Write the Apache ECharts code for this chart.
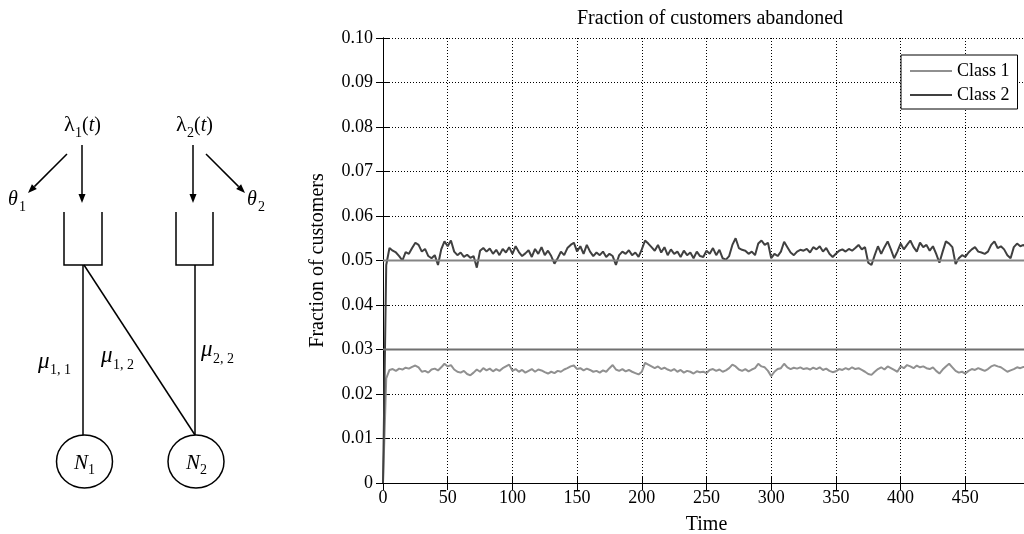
<!DOCTYPE html>
<html>
<head>
<meta charset="utf-8">
<title>Fraction of customers abandoned</title>
<script src="https://cdn.jsdelivr.net/npm/echarts@6/dist/echarts.min.js"></script>
<style>
  html, body { margin: 0; padding: 0; background: #fff; }
  #main { width: 1024px; height: 534px; }
</style>
</head>
<body>
<div id="main"></div>
<script>
// sampled every timeStep time units, starting at t = 0
var timeStep = 2.5;

var class1 = [
  0, 0.0235, 0.0254, 0.0256, 0.0252, 0.0257, 0.0255, 0.0259, 0.0257, 0.0261,
  0.0264, 0.0260, 0.0250, 0.0252, 0.0248, 0.0255, 0.0257, 0.0253, 0.0260, 0.0268,
  0.0262, 0.0265, 0.0255, 0.0250, 0.0248, 0.0252, 0.0245, 0.0242, 0.0248, 0.0255,
  0.0250, 0.0258, 0.0253, 0.0257, 0.0251, 0.0256, 0.0252, 0.0258, 0.0262, 0.0266,
  0.0252, 0.0256, 0.0250, 0.0254, 0.0248, 0.0252, 0.0256, 0.0250, 0.0255, 0.0253,
  0.0249, 0.0246, 0.0250, 0.0247, 0.0252, 0.0250, 0.0255, 0.0258, 0.0262, 0.0264,
  0.0256, 0.0258, 0.0253, 0.0257, 0.0254, 0.0250, 0.0252, 0.0248, 0.0253, 0.0250,
  0.0258, 0.0265, 0.0255, 0.0252, 0.0256, 0.0251, 0.0254, 0.0250, 0.0247, 0.0244,
  0.0250, 0.0270, 0.0266, 0.0262, 0.0258, 0.0262, 0.0256, 0.0259, 0.0255, 0.0252,
  0.0256, 0.0250, 0.0254, 0.0248, 0.0252, 0.0250, 0.0246, 0.0251, 0.0249, 0.0250,
  0.0247, 0.0254, 0.0256, 0.0252, 0.0255, 0.0250, 0.0253, 0.0258, 0.0266, 0.0262,
  0.0255, 0.0252, 0.0256, 0.0251, 0.0255, 0.0258, 0.0268, 0.0262, 0.0260, 0.0252,
  0.0240, 0.0250, 0.0256, 0.0258, 0.0268, 0.0260, 0.0256, 0.0259, 0.0257, 0.0260,
  0.0256, 0.0258, 0.0255, 0.0259, 0.0256, 0.0260, 0.0254, 0.0257, 0.0252, 0.0249,
  0.0251, 0.0256, 0.0254, 0.0258, 0.0255, 0.0260, 0.0256, 0.0258, 0.0254, 0.0250,
  0.0245, 0.0243, 0.0250, 0.0256, 0.0260, 0.0255, 0.0262, 0.0258, 0.0254, 0.0250,
  0.0262, 0.0258, 0.0265, 0.0262, 0.0258, 0.0264, 0.0260, 0.0262, 0.0258, 0.0256,
  0.0260, 0.0252, 0.0246, 0.0255, 0.0262, 0.0268, 0.0260, 0.0252, 0.0248, 0.0250,
  0.0246, 0.0252, 0.0256, 0.0254, 0.0258, 0.0255, 0.0252, 0.0256, 0.0262, 0.0265,
  0.0262, 0.0260, 0.0255, 0.0250, 0.0253, 0.0256, 0.0260, 0.0258, 0.0261, 0.0259,
  0.0262
];

var class2 = [
  0, 0.0490, 0.0528, 0.0522, 0.0518, 0.0510, 0.0500, 0.0519, 0.0515, 0.0528,
  0.0540, 0.0535, 0.0520, 0.0526, 0.0510, 0.0505, 0.0512, 0.0490, 0.0525, 0.0543,
  0.0532, 0.0545, 0.0520, 0.0512, 0.0518, 0.0508, 0.0513, 0.0506, 0.0510, 0.0484,
  0.0522, 0.0528, 0.0520, 0.0527, 0.0515, 0.0524, 0.0512, 0.0526, 0.0518, 0.0530,
  0.0515, 0.0532, 0.0519, 0.0510, 0.0516, 0.0523, 0.0508, 0.0526, 0.0515, 0.0530,
  0.0512, 0.0522, 0.0510, 0.0493, 0.0505, 0.0520, 0.0512, 0.0528, 0.0535, 0.0540,
  0.0520, 0.0532, 0.0515, 0.0535, 0.0520, 0.0510, 0.0518, 0.0512, 0.0520, 0.0508,
  0.0515, 0.0510, 0.0490, 0.0512, 0.0520, 0.0515, 0.0523, 0.0512, 0.0518, 0.0508,
  0.0525, 0.0545, 0.0538, 0.0530, 0.0522, 0.0535, 0.0518, 0.0530, 0.0512, 0.0525,
  0.0515, 0.0520, 0.0508, 0.0522, 0.0512, 0.0518, 0.0505, 0.0520, 0.0510, 0.0508,
  0.0522, 0.0515, 0.0528, 0.0512, 0.0524, 0.0505, 0.0502, 0.0510, 0.0535, 0.0550,
  0.0528, 0.0524, 0.0522, 0.0515, 0.0520, 0.0512, 0.0538, 0.0545, 0.0535, 0.0540,
  0.0505, 0.0515, 0.0510, 0.0520, 0.0542, 0.0530, 0.0518, 0.0512, 0.0520, 0.0524,
  0.0522, 0.0526, 0.0518, 0.0530, 0.0525, 0.0532, 0.0520, 0.0528, 0.0515, 0.0508,
  0.0515, 0.0522, 0.0525, 0.0520, 0.0526, 0.0522, 0.0528, 0.0535, 0.0525, 0.0530,
  0.0495, 0.0490, 0.0512, 0.0532, 0.0515, 0.0530, 0.0543, 0.0525, 0.0505, 0.0520,
  0.0538, 0.0525, 0.0535, 0.0545, 0.0530, 0.0520, 0.0540, 0.0530, 0.0535, 0.0522,
  0.0532, 0.0515, 0.0495, 0.0520, 0.0543, 0.0538, 0.0530, 0.0492, 0.0505, 0.0512,
  0.0508, 0.0518, 0.0525, 0.0530, 0.0520, 0.0518, 0.0515, 0.0520, 0.0535, 0.0543,
  0.0528, 0.0532, 0.0525, 0.0512, 0.0505, 0.0530, 0.0538, 0.0532, 0.0535, 0.0528,
  0.0530
];

// horizontal reference levels drawn across the whole run
var targetLevels = [0.05, 0.03];
var timeRange = [0, 500];

var serif = '"Liberation Serif", "DejaVu Serif", serif';
var ink = '#000';

function pairs(values) {
  return values.map(function (v, i) { return [i * timeStep, v]; });
}

// ---- queue diagram on the left ----
function seg(x1, y1, x2, y2) {
  return { type: 'line', shape: { x1: x1, y1: y1, x2: x2, y2: y2 },
           style: { stroke: ink, lineWidth: 1.5 } };
}
function arrow(x1, y1, x2, y2) {
  var a = Math.atan2(y2 - y1, x2 - x1), L = 9, W = 3.5;
  var bx = x2 - L * Math.cos(a), by = y2 - L * Math.sin(a);
  return [
    seg(x1, y1, bx, by),
    { type: 'polygon',
      shape: { points: [[x2, y2],
                        [bx + W * Math.sin(a), by - W * Math.cos(a)],
                        [bx - W * Math.sin(a), by + W * Math.cos(a)]] },
      style: { fill: ink } }
  ];
}
function txt(x, base, s, size, italic) {
  return { type: 'text', x: x, y: base - 0.34 * size,
           style: { text: s, fontSize: size, fontFamily: serif,
                    fontStyle: italic ? 'italic' : 'normal',
                    fill: ink, align: 'left', verticalAlign: 'middle' } };
}
function queue(xl, xr) {
  return { type: 'polyline',
           shape: { points: [[xl, 212], [xl, 265], [xr, 265], [xr, 212]] },
           style: { stroke: ink, fill: null, lineWidth: 1.5 } };
}
function node(cx) {
  return { type: 'ellipse', shape: { cx: cx, cy: 461.5, rx: 28, ry: 26.5 },
           style: { stroke: ink, fill: '#fff', lineWidth: 1.5 } };
}
function paren(x, base) {
  return { type: 'text', x: x, y: base - 0.34 * 20,
           style: { text: '{n|(}{i|t}{n|)}', fill: ink, align: 'left', verticalAlign: 'middle',
                    rich: { n: { fontSize: 20, fontFamily: serif },
                            i: { fontSize: 20, fontFamily: serif, fontStyle: 'italic' } } } };
}

var diagram = [].concat(
  arrow(82, 145, 82, 203),
  arrow(193, 145, 193, 203),
  arrow(67, 154, 28, 193),
  arrow(206, 154, 245, 193),
  [
    queue(64, 102), queue(176, 213),
    seg(83, 265, 83, 435), seg(84, 265, 195, 435), seg(195, 265, 195, 435),
    node(84.5), node(196),
    txt(64, 133, 'λ', 22, false), txt(75, 138, '1', 14, false), paren(82, 133),
    txt(176, 133, 'λ', 22, false), txt(187, 138, '2', 14, false), paren(194, 133),
    txt(8, 207, 'θ', 20, true), txt(19, 212, '1', 14, false),
    txt(247, 207, 'θ', 20, true), txt(258, 212, '2', 14, false),
    txt(74, 471, 'N', 21, true), txt(88, 475, '1', 14, false),
    txt(186, 471, 'N', 21, true), txt(200, 475, '2', 14, false),
    txt(38, 370, 'μ', 23, true), txt(50, 375, '1, 1', 14, false),
    txt(101, 364, 'μ', 23, true), txt(113, 370, '1, 2', 14, false),
    txt(201, 358, 'μ', 23, true), txt(213, 364, '2, 2', 14, false)
  ]
);

// ---- chart ----
var chart = echarts.init(document.getElementById('main'));

var tickStyle = { show: true, inside: true, length: 7, lineStyle: { color: ink, width: 1 } };

var option = {
  backgroundColor: '#fff',
  animation: false,
  title: {
    text: 'Fraction of customers abandoned',
    left: 705, top: 4, textAlign: 'center',
    textStyle: { color: ink, fontSize: 20, fontWeight: 'normal', fontFamily: serif }
  },
  legend: {
    data: ['Class 1', 'Class 2'],
    orient: 'vertical',
    left: 901, top: 55,
    icon: 'rect',
    itemWidth: 42, itemHeight: 2, itemGap: 6,
    padding: [7, 8, 5, 9],
    borderColor: ink, borderWidth: 1, borderRadius: 0,
    backgroundColor: '#fff',
    textStyle: { color: ink, fontSize: 18, fontFamily: serif }
  },
  grid: { left: 383, right: -6, top: 38, bottom: 51, outerBoundsMode: 'none', containLabel: false },
  xAxis: [
    {
      type: 'value', min: timeRange[0], max: timeRange[1], interval: 50,
      name: 'Time', nameLocation: 'middle', nameGap: 32,
      nameTextStyle: { color: ink, fontSize: 20, fontFamily: serif },
      axisLine: { show: true, lineStyle: { color: ink, width: 1 } },
      axisTick: tickStyle,
      axisLabel: { color: ink, fontSize: 18, fontFamily: serif, margin: 6, showMaxLabel: false },
      splitLine: { show: true, lineStyle: { color: ink, type: [1, 2], width: 1 } }
    },
    {
      type: 'value', position: 'top', min: timeRange[0], max: timeRange[1], interval: 50,
      axisLine: { show: true, lineStyle: { color: ink, width: 1 } },
      axisTick: tickStyle,
      axisLabel: { show: false },
      splitLine: { show: false }
    }
  ],
  yAxis: [
    {
      type: 'value', min: 0, max: 0.1, interval: 0.01,
      name: 'Fraction of customers', nameLocation: 'middle', nameGap: 55,
      nameTextStyle: { color: ink, fontSize: 20, fontFamily: serif },
      axisLine: { show: true, lineStyle: { color: ink, width: 1 } },
      axisTick: tickStyle,
      axisLabel: {
        color: ink, fontSize: 18, fontFamily: serif, margin: 10,
        formatter: function (v) { return v === 0 ? '0' : v.toFixed(2); }
      },
      splitLine: { show: true, lineStyle: { color: ink, type: [1, 2], width: 1 } }
    },
    {
      type: 'value', position: 'right', min: 0, max: 0.1, interval: 0.01,
      axisLine: { show: true, lineStyle: { color: ink, width: 1 } },
      axisTick: tickStyle,
      axisLabel: { show: false },
      splitLine: { show: false }
    }
  ],
  series: [
    {
      name: 'Class 1', type: 'line', symbol: 'none', showSymbol: false,
      lineStyle: { color: '#909090', width: 2 }, itemStyle: { color: '#909090' },
      data: pairs(class1), z: 3
    },
    {
      name: 'Class 2', type: 'line', symbol: 'none', showSymbol: false,
      lineStyle: { color: '#404040', width: 2 }, itemStyle: { color: '#404040' },
      data: pairs(class2), z: 3
    },
    {
      name: 'level 1', type: 'line', symbol: 'none', silent: true,
      lineStyle: { color: '#858585', width: 2 },
      data: timeRange.map(function (t) { return [t, targetLevels[0]]; }), z: 4
    },
    {
      name: 'level 2', type: 'line', symbol: 'none', silent: true,
      lineStyle: { color: '#707070', width: 2 },
      data: timeRange.map(function (t) { return [t, targetLevels[1]]; }), z: 4
    }
  ],
  graphic: { elements: diagram }
};

chart.setOption(option);
</script>
</body>
</html>
